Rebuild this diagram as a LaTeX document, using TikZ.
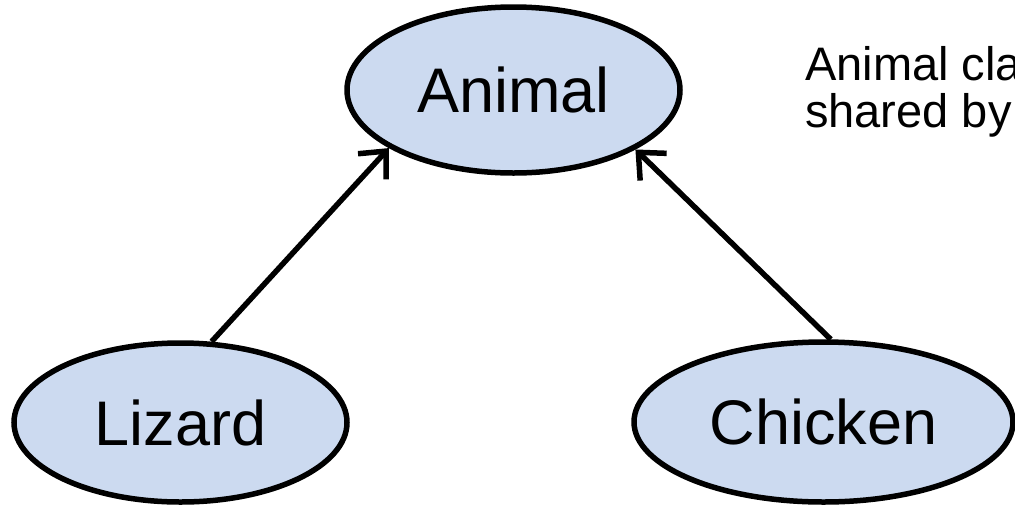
\documentclass[tikz,border=0pt]{standalone}
\usepackage{fontspec}
\setmainfont{Liberation Sans}
\usetikzlibrary{shapes.geometric,arrows.meta}
\definecolor{classfill}{RGB}{204,218,240}
\tikzset{
  classnode/.style={ellipse, draw=black, line width=5.5pt, fill=classfill,
    inner sep=0pt, font=\fontsize{63}{70}\selectfont},
  inherit/.style={line width=5.5pt,
    -{Straight Barb[length=21pt,width=38pt,line width=5.5pt]}},
  note/.style={anchor=base west, inner sep=0pt, font=\fontsize{47}{47}\selectfont}
}
\begin{document}
\begin{tikzpicture}[x=1pt,y=-1pt]
  \useasboundingbox (0,0) rectangle (1015,507);
  % class hierarchy
  \node[classnode, minimum width=333pt, minimum height=166pt] (animal) at (513.5,90) {Animal};
  \node[classnode, minimum width=333pt, minimum height=159pt] (lizard) at (180.5,422.5) {Lizard};
  \node[classnode, minimum width=379pt, minimum height=160pt] (chicken) at (823.5,422) {Chicken};
  % subclass arrows
  \draw[inherit] (lizard.69) -- (animal.205);
  \draw[inherit] (chicken.85.5) -- (animal.334);
  % side note
  \node[note] (note1) at (805,80) {Animal cla};
  \node[note] (note2) at (805,127) {shared by};
\end{tikzpicture}
\end{document}
